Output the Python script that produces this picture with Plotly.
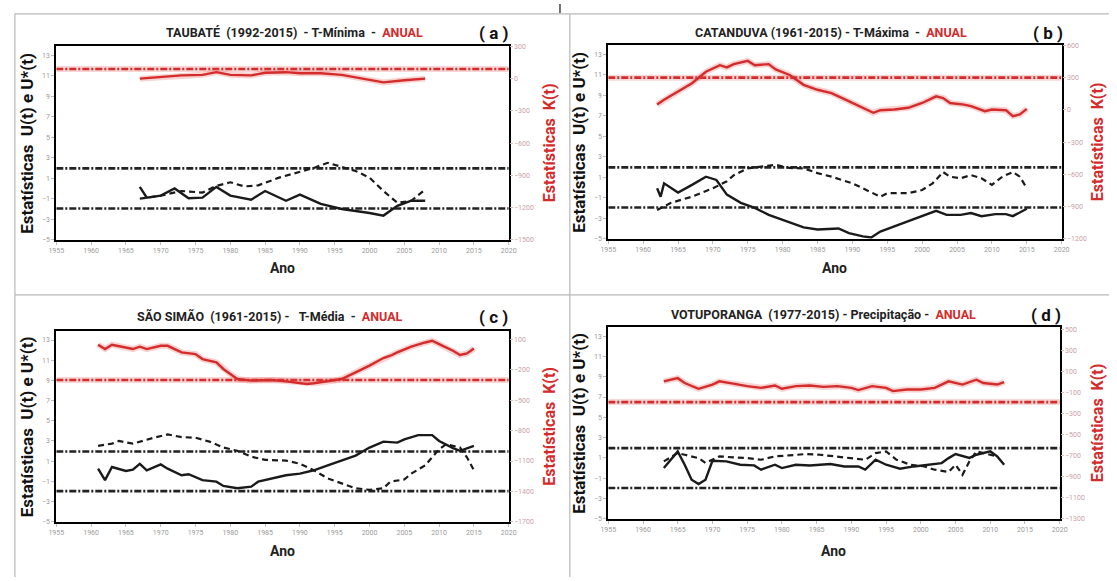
import plotly.graph_objects as go

W, H = 1117, 581

# ---------------- data ----------------
X_TICKS = list(range(1955, 2021, 5))
U_TICKS = list(range(-5, 14, 2))
U_CRIT = 1.96
CRIT_X = [1955, 2020]

# (a) TAUBATÉ - T-Mínima
A_K_YEARS = [1967, 1970, 1973, 1976, 1978, 1980, 1983, 1985, 1988, 1990, 1993, 1996, 1999, 2002, 2005, 2008]
A_K = [0, 15, 30, 35, 60, 35, 30, 55, 60, 50, 50, 35, 0, -35, -15, 0]
A_U_YEARS = [1967, 1968, 1970, 1972, 1974, 1976, 1978, 1980, 1983, 1985, 1988, 1990, 1993, 1996, 2000, 2002, 2004, 2006, 2008]
A_U = [0.15, -0.9, -0.7, 0.0, -0.95, -0.9, 0.15, -0.7, -1.1, -0.25, -1.2, -0.6, -1.5, -2.0, -2.4, -2.65, -1.7, -1.2, -1.2]
A_US_YEARS = [1967, 1970, 1973, 1976, 1978, 1980, 1982, 1984, 1987, 1990, 1992, 1994, 1996, 1998, 2000, 2002, 2004, 2006, 2008]
A_US = [-1.0, -0.7, -0.25, -0.4, 0.25, 0.6, 0.2, 0.3, 1.05, 1.6, 2.0, 2.5, 2.1, 1.7, 1.05, -0.25, -1.4, -1.2, -0.1]
A_K_CRIT = 90

# (b) CATANDUVA - T-Máxima
B_K_YEARS = [1962, 1963, 1965, 1967, 1969, 1971, 1972, 1973, 1975, 1976, 1978, 1979, 1981, 1983, 1985, 1987, 1989,
             1991, 1993, 1994, 1996, 1998, 2000, 2002, 2003, 2004, 2006, 2007, 2009, 2010, 2012, 2013, 2014, 2015]
B_K = [49, 95, 171, 248, 355, 416, 395, 426, 456, 416, 426, 377, 325, 233, 187, 156, 95,
       34, -27, -3, 3, 19, 64, 126, 110, 64, 49, 34, -12, 3, -3, -58, -43, 9]
B_U_YEARS = [1962, 1962.5, 1963, 1965, 1967, 1969, 1970.5, 1972, 1974, 1976, 1978, 1980, 1983, 1985, 1988, 1989.5,
             1991.5, 1992.7, 1994, 1996, 1998, 2000, 2002, 2003.5, 2005.5, 2007, 2008.5, 2010.5, 2012, 2013, 2015]
B_U = [-0.08, -0.9, 0.4, -0.5, 0.25, 1.05, 0.73, -0.7, -1.5, -2.0, -2.67, -3.15, -3.9, -4.1, -4.0, -4.45,
       -4.77, -4.87, -4.3, -3.8, -3.3, -2.8, -2.28, -2.67, -2.67, -2.5, -2.8, -2.6, -2.6, -2.8, -2.08]
B_US_YEARS = [1962, 1964, 1967, 1970, 1972, 1973, 1975, 1977, 1979, 1981, 1983, 1985, 1987, 1990, 1992, 1994, 1995,
              1998, 2000, 2001.5, 2003, 2004, 2005.5, 2007, 2008.5, 2010, 2011.5, 2013, 2014, 2015]
B_US = [-2.2, -1.5, -0.9, -0.08, 0.6, 1.2, 1.86, 2.0, 2.2, 1.9, 1.86, 1.4, 1.05, 0.4, -0.25, -0.9, -0.56,
        -0.56, -0.25, 0.4, 1.5, 1.05, 0.9, 1.2, 0.9, 0.25, 1.05, 1.5, 1.05, -0.08]
B_K_CRIT = 300

# (c) SÃO SIMÃO - T-Média
C_K_YEARS = [1961, 1962, 1963, 1965, 1966, 1967, 1968, 1970, 1971, 1972, 1973, 1975, 1976, 1978, 1979, 1980, 1981,
             1983, 1986, 1988, 1991, 1992, 1995, 1996, 1998, 2000, 2002, 2003, 2004, 2006, 2008, 2009, 2010, 2012,
             2013, 2014, 2015]
C_K = [48, 6, 48, 16, 6, 29, 6, 38, 38, 6, -27, -44, -93, -126, -191, -240, -290,
       -306, -300, -313, -339, -332, -306, -290, -224, -158, -83, -60, -27, 29, 71, 88, 55, -11,
       -53, -37, 12]
C_U_YEARS = [1961, 1962, 1963, 1965, 1966, 1967, 1968, 1970, 1971, 1973, 1974, 1976, 1978, 1979, 1981, 1983, 1984,
             1986, 1988, 1990, 1992, 1994, 1996, 1998, 2000, 2002, 2004, 2005, 2007, 2009, 2010, 2012, 2013, 2015]
C_U = [0.26, -0.87, 0.42, 0.03, 0.16, 0.74, 0.1, 0.68, 0.26, -0.39, -0.29, -0.87, -1.03, -1.45, -1.68, -1.52, -1.03,
       -0.71, -0.39, -0.23, 0.1, 0.58, 1.06, 1.55, 2.35, 2.94, 2.84, 3.16, 3.58, 3.58, 3.0, 2.29, 2.03, 2.52]
C_US_YEARS = [1961, 1963, 1964, 1966, 1969, 1971, 1973, 1975, 1977, 1979, 1981, 1983, 1985, 1988, 1990, 1992, 1994,
              1996, 1998, 2000, 2002, 2003, 2005, 2006, 2008, 2009, 2010, 2011, 2013, 2014, 2015]
C_US = [2.52, 2.74, 3.0, 2.74, 3.32, 3.65, 3.39, 3.32, 2.94, 2.35, 2.03, 1.45, 1.13, 1.06, 0.74, 0.1, -0.71,
        -1.19, -1.68, -1.84, -1.68, -1.03, -0.81, -0.23, 0.58, 1.39, 2.19, 2.68, 2.35, 1.39, 0.1]
C_K_CRIT = -300

# (d) VOTUPORANGA - Precipitação
D_K_YEARS = [1963, 1965, 1966, 1968, 1970, 1971, 1973, 1975, 1977, 1979, 1980, 1982, 1984, 1986, 1988, 1990,
             1991, 1993, 1995, 1996, 1998, 2000, 2002, 2003, 2004, 2006, 2007, 2008, 2009, 2011, 2012]
D_K = [8, 38, -8, -63, -23, 8, -14, -38, -54, -32, -63, -38, -32, -45, -38, -54,
       -75, -38, -54, -85, -70, -70, -54, -23, 8, -23, 0, 23, -8, -23, 0]
D_U_YEARS = [1963, 1965, 1966, 1967, 1968, 1969, 1970, 1972, 1974, 1976, 1977, 1979, 1980, 1982, 1984, 1987,
             1989, 1991, 1992, 1993.5, 1995, 1997, 1999, 2001, 2003, 2004, 2005, 2007, 2008, 2010, 2011, 2012]
D_U = [0.0, 1.64, 0.33, -1.15, -1.57, -1.15, 0.72, 0.66, 0.33, 0.26, -0.16, 0.33, 0.0, 0.33, 0.26, 0.4,
       0.16, 0.16, -0.16, 0.82, 0.33, -0.07, 0.16, 0.33, 0.49, 0.98, 1.38, 1.0, 1.31, 1.64, 1.15, 0.33]
D_US_YEARS = [1963, 1965, 1966, 1968, 1969, 1971, 1973, 1975, 1977, 1979, 1981, 1983.5, 1985.5, 1988, 1990, 1992,
              1993.5, 1995, 1996.5, 1998.5, 2000.5, 2002, 2004, 2005, 2006, 2007, 2008, 2010, 2011]
D_US = [0.66, 1.48, 1.31, 0.98, 0.5, 1.15, 1.05, 0.98, 0.82, 1.15, 1.25, 1.38, 1.31, 1.15, 0.98, 0.82,
        1.48, 1.64, 0.82, 0.33, 0.16, -0.16, -0.39, 0.33, -0.66, 0.66, 1.64, 1.31, 1.15]
D_K_CRIT = -190

TITLES = [
    ("TAUBATÉ\u00a0\u00a0(1992-2015)\u00a0\u00a0-\u00a0T-Mínima\u00a0\u00a0-\u00a0\u00a0", "( a )"),
    ("CATANDUVA\u00a0(1961-2015)\u00a0-\u00a0T-Máxima\u00a0\u00a0-\u00a0\u00a0", "( b )"),
    ("SÃO SIMÃO\u00a0\u00a0(1961-2015)\u00a0-\u00a0\u00a0\u00a0T-Média\u00a0\u00a0-\u00a0\u00a0", "( c )"),
    ("VOTUPORANGA\u00a0\u00a0(1977-2015)\u00a0-\u00a0Precipitação\u00a0-\u00a0\u00a0", "( d )"),
]
PERIOD_LABEL = "ANUAL"
K_TICKS = [
    list(range(-1500, 301, 300)),
    list(range(-1200, 601, 300)),
    list(range(-1700, 101, 300)),
    list(range(-1300, 501, 200)),
]

# ---------------- layout (pixel geometry) ----------------
RED = "#d42b2b"
panels = [
    dict(box=(49, 508, 43, 239), krange=[-1500, 300], title_y=29, title_cx=291, tag_x=493, ano_y=268,
         ly=19, ry=549,
         K=(A_K_YEARS, A_K), U=(A_U_YEARS, A_U), US=(A_US_YEARS, A_US), kc=A_K_CRIT),
    dict(box=(609, 1069, 42, 238), krange=[-1200, 600], title_y=29, title_cx=835, tag_x=1055, ano_y=268,
         ly=579, ry=1105,
         K=(B_K_YEARS, B_K), U=(B_U_YEARS, B_U), US=(B_US_YEARS, B_US), kc=B_K_CRIT),
    dict(box=(49, 508, 332, 525), krange=[-1700, 180], title_y=317, title_cx=266, tag_x=493, ano_y=555,
         ly=19, ry=549,
         K=(C_K_YEARS, C_K), U=(C_U_YEARS, C_U), US=(C_US_YEARS, C_US), kc=C_K_CRIT),
    dict(box=(609, 1067, 328, 522), krange=[-1300, 520], title_y=315, title_cx=827, tag_x=1053, ano_y=555,
         ly=579, ry=1105,
         K=(D_K_YEARS, D_K), U=(D_U_YEARS, D_U), US=(D_US_YEARS, D_US), kc=D_K_CRIT),
]


def px(x):
    return x / W


def py(y):
    return 1 - y / H


fig = go.Figure()
layout = {}
annotations = []
FONT = "Roboto, Liberation Sans, Arial, sans-serif"

for i, p in enumerate(panels):
    xn = i + 1
    yl = 2 * i + 1
    yr = 2 * i + 2
    xref = "x" if xn == 1 else f"x{xn}"
    ylref = "y" if yl == 1 else f"y{yl}"
    yrref = f"y{yr}"
    x0, x1, t, b = p["box"]

    layout["xaxis" if xn == 1 else f"xaxis{xn}"] = dict(
        domain=[px(x0), px(x1)], anchor=ylref, range=[1955, 2020],
        tickvals=X_TICKS, ticks="outside", ticklen=3, tickcolor="#bbbbbb",
        tickfont=dict(size=7, color="#9a9a9a", family=FONT),
        showline=True, linecolor="black", linewidth=2, mirror=True,
        showgrid=False, zeroline=False,
    )
    layout["yaxis" if yl == 1 else f"yaxis{yl}"] = dict(
        domain=[py(b), py(t)], anchor=xref, range=[-5, 13.85],
        tickvals=U_TICKS, ticks="outside", ticklen=3, tickcolor="#bbbbbb",
        tickfont=dict(size=7, color="#9a9a9a", family=FONT),
        showline=True, linecolor="black", linewidth=2, mirror=True,
        showgrid=False, zeroline=False,
    )
    layout[f"yaxis{yr}"] = dict(
        overlaying=ylref, side="right", anchor=xref, range=p["krange"],
        tickvals=K_TICKS[i], ticks="outside", ticklen=3, tickcolor="#ddbbbb",
        tickfont=dict(size=7, color="#c9a0a6", family=FONT),
        showline=False, showgrid=False, zeroline=False,
    )

    # critical lines
    for c in (U_CRIT, -U_CRIT):
        fig.add_trace(go.Scatter(x=CRIT_X, y=[c, c], mode="lines", xaxis=xref, yaxis=ylref,
                                 line=dict(color="#222222", width=2.6, dash="7px,2px,2px,2px"),
                                 showlegend=False, hoverinfo="skip"))
    fig.add_trace(go.Scatter(x=CRIT_X, y=[p["kc"], p["kc"]], mode="lines", xaxis=xref, yaxis=yrref,
                             line=dict(color="rgba(230,90,90,0.25)", width=6),
                             showlegend=False, hoverinfo="skip"))
    fig.add_trace(go.Scatter(x=CRIT_X, y=[p["kc"], p["kc"]], mode="lines", xaxis=xref, yaxis=yrref,
                             line=dict(color=RED, width=2.6, dash="7px,2px,2px,2px"),
                             showlegend=False, hoverinfo="skip"))
    # U*(t) and U(t)
    fig.add_trace(go.Scatter(x=p["US"][0], y=p["US"][1], mode="lines", xaxis=xref, yaxis=ylref,
                             line=dict(color="#1a1a1a", width=2.2, dash="6px,4px"),
                             showlegend=False, name="U*(t)"))
    fig.add_trace(go.Scatter(x=p["U"][0], y=p["U"][1], mode="lines", xaxis=xref, yaxis=ylref,
                             line=dict(color="#1a1a1a", width=2.4),
                             showlegend=False, name="U(t)"))
    # K(t)
    fig.add_trace(go.Scatter(x=p["K"][0], y=p["K"][1], mode="lines", xaxis=xref, yaxis=yrref,
                             line=dict(color="rgba(230,90,90,0.28)", width=6),
                             showlegend=False, hoverinfo="skip"))
    fig.add_trace(go.Scatter(x=p["K"][0], y=p["K"][1], mode="lines", xaxis=xref, yaxis=yrref,
                             line=dict(color=RED, width=2.4),
                             showlegend=False, name="K(t)"))

    # texts
    title, tag = TITLES[i]
    annotations.append(dict(
        text=f"<b>{title}<span style='color:{RED}'>{PERIOD_LABEL}</span></b>",
        x=px(p["title_cx"]), y=py(p["title_y"]), xref="paper", yref="paper",
        xanchor="center", yanchor="middle", showarrow=False,
        font=dict(size=12.5, color="#222222", family=FONT)))
    annotations.append(dict(
        text=f"<b>{tag}</b>", x=px(p["tag_x"]), y=py(p["title_y"]), xref="paper", yref="paper",
        xanchor="center", yanchor="middle", showarrow=False,
        font=dict(size=17, color="#111111", family=FONT)))
    mid_y = (t + b) / 2
    annotations.append(dict(
        text="<b>Estatísticas  U(t) e U*(t)</b>", x=px(p["ly"]), y=py(mid_y), xref="paper", yref="paper",
        xanchor="center", yanchor="middle", textangle=-90, showarrow=False,
        font=dict(size=17, color="#111111", family=FONT)))
    annotations.append(dict(
        text="<b>Estatísticas  K(t)</b>", x=px(p["ry"]), y=py(mid_y), xref="paper", yref="paper",
        xanchor="center", yanchor="middle", textangle=-90, showarrow=False,
        font=dict(size=16, color=RED, family=FONT)))
    annotations.append(dict(
        text="<b>Ano</b>", x=px((x0 + x1) / 2), y=py(p["ano_y"]), xref="paper", yref="paper",
        xanchor="center", yanchor="middle", showarrow=False,
        font=dict(size=14, color="#222222", family=FONT)))

# panel dividers
GRID = "#b8b8b8"
shapes = [
    dict(type="line", xref="paper", yref="paper", x0=px(7), x1=1, y0=py(10), y1=py(10),
         line=dict(color=GRID, width=1.2)),
    dict(type="line", xref="paper", yref="paper", x0=px(7), x1=1, y0=py(295), y1=py(295),
         line=dict(color=GRID, width=1.2)),
    dict(type="line", xref="paper", yref="paper", x0=px(7), x1=px(7), y0=py(10), y1=0,
         line=dict(color=GRID, width=1.2)),
    dict(type="line", xref="paper", yref="paper", x0=px(570), x1=px(570), y0=py(10), y1=0,
         line=dict(color=GRID, width=1.2)),
    dict(type="line", xref="paper", yref="paper", x0=px(560), x1=px(560), y0=1, y1=py(9),
         line=dict(color="#444444", width=1.5)),
]

fig.update_layout(
    width=W, height=H, margin=dict(l=0, r=0, t=0, b=0),
    paper_bgcolor="white", plot_bgcolor="white",
    annotations=annotations, shapes=shapes, showlegend=False,
    font=dict(family=FONT),
    **layout,
)

fig.write_html("out.html", config={"displayModeBar": False},
               post_script="document.body.style.margin='0';document.body.style.overflow='hidden';")
